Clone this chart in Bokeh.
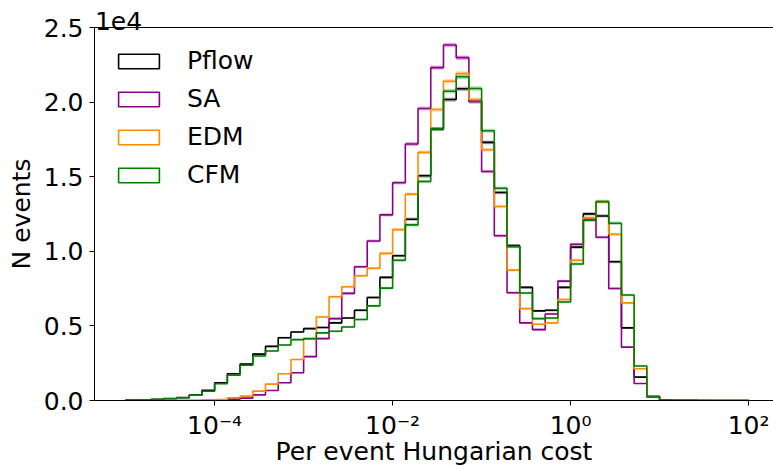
import numpy as np
from bokeh.plotting import figure
from bokeh.models import Range1d, FixedTicker, LogAxis, Legend, LegendItem, ColumnDataSource
from bokeh.embed import file_html
from bokeh.resources import INLINE

# 49 log-spaced bins, 7 per decade, from 1e-5 to 1e2
log_lo, log_hi, n_edges = -5.0, 2.0, 50

pflow = [30, 50, 80, 130, 190, 370, 680, 1190, 1790, 2440, 3110, 3630, 4210, 4590,
         4820, 4890, 5200, 5530, 6050, 6900, 8250, 9700, 12150, 15060, 18200, 20170,
         20890, 20060, 17300, 13940, 10380, 7580, 6010, 6050, 7580, 10280, 12510, 12370,
         9300, 4870, 1570, 270, 50, 20, 10, 5, 3, 2, 1]
sa = [0, 0, 0, 0, 2, 5, 15, 30, 90, 160, 380, 670, 1190, 1860,
      2940, 4150, 5490, 7180, 8960, 10690, 12440, 14590, 17190, 19570, 22310, 23830,
      22980, 20040, 15350, 11040, 7220, 5200, 4750, 5800, 8000, 10470, 12150, 10940,
      7510, 3580, 1140, 220, 50, 30, 30, 10, 5, 3, 1]
edm = [0, 0, 0, 0, 5, 15, 30, 70, 180, 290, 630, 1100, 1790, 2750,
       4120, 5600, 6950, 7620, 8360, 8860, 9860, 11450, 13830, 16630, 19500, 21400,
       21920, 20170, 16810, 13000, 8740, 6160, 5110, 5200, 6770, 9400, 12250, 13300,
       11140, 6540, 2130, 270, 50, 20, 10, 8, 5, 3, 1]
cfm = [30, 50, 70, 120, 180, 350, 620, 1120, 1700, 2360, 2980, 3320, 3720, 4080,
       4150, 4530, 4640, 4930, 5430, 6340, 7530, 9400, 11770, 14680, 18200, 20730,
       21700, 20910, 18080, 14230, 10310, 7210, 5490, 5530, 6600, 9150, 12080, 13340,
       11880, 7070, 2310, 280, 50, 20, 10, 5, 3, 2, 1]

series_names = ["Pflow", "SA", "EDM", "CFM"]
series_values = [pflow, sa, edm, cfm]
series_colors = ["black", "darkmagenta", "darkorange", "green"]

x_ticks = [1e-4, 1e-2, 1e0, 1e2]
x_tick_labels = ["10\u207b\u2074", "10\u207b\u00b2", "10\u2070", "10\u00b2"]
y_ticks = [0, 5000, 10000, 15000, 20000, 25000]
y_tick_labels = ["0.0", "0.5", "1.0", "1.5", "2.0", "2.5"]
y_offset_text = "1e4"
x_label = "Per event Hungarian cost"
y_label = "N events"

FONT = "DejaVu Sans"
FS = "25px"

edges = np.logspace(log_lo, log_hi, n_edges)
x_lo_log, x_hi_log = -5.35, 2.28

p = figure(frame_width=679, frame_height=373, x_axis_type="log",
           x_range=Range1d(10 ** x_lo_log, 10 ** x_hi_log), y_range=Range1d(0, 25000),
           output_backend="svg", toolbar_location=None,
           min_border_left=94, min_border_right=0, min_border_top=27, min_border_bottom=70)
p.outline_line_color = None
p.grid.visible = False
p.background_fill_color = "white"
p.border_fill_color = "white"

legend_items = []
for name, vals, col in zip(series_names, series_values, series_colors):
    c = np.asarray(vals, dtype=float)
    err = np.sqrt(c)
    band = ColumnDataSource(dict(left=edges[:-1], right=edges[1:], bottom=c - err, top=c + err))
    p.quad(left="left", right="right", bottom="bottom", top="top", source=band,
           fill_color=col, fill_alpha=0.3, line_color=None)
    xs = np.concatenate([[edges[0]], np.repeat(edges, 2)[1:-1], [edges[-1]]])
    ys = np.concatenate([[0.0], np.repeat(c, 2), [0.0]])
    p.line(xs, ys, line_color=col, line_width=1.6)
    # legend-only patch (not drawn: NaN extent)
    dummy = p.quad(left=[np.nan], right=[np.nan], bottom=[np.nan], top=[np.nan],
                   fill_color=None, line_color=col, line_width=1.6)
    legend_items.append(LegendItem(label=name, renderers=[dummy]))

legend = Legend(items=legend_items, location="top_left", margin=19, padding=0,
                border_line_color=None, background_fill_alpha=0,
                glyph_width=51, glyph_height=18, label_standoff=23, spacing=9,
                label_text_font=FONT, label_text_font_size=FS, label_text_color="black")
p.add_layout(legend)

xa = p.xaxis[0]
xa.ticker = FixedTicker(ticks=x_ticks, minor_ticks=[])
xa.major_label_overrides = dict(zip(x_ticks, x_tick_labels))
xa.axis_label = x_label
xa.major_label_standoff = 5
xa.axis_label_standoff = -6

ya = p.yaxis[0]
ya.ticker = FixedTicker(ticks=y_ticks, minor_ticks=[])
ya.major_label_overrides = dict(zip(y_ticks, y_tick_labels))
ya.axis_label = y_label
ya.major_label_standoff = 6
ya.axis_label_standoff = 5

for ax in (xa, ya):
    ax.major_label_text_font = FONT
    ax.major_label_text_font_size = FS
    ax.major_label_text_color = "black"
    ax.axis_label_text_font = FONT
    ax.axis_label_text_font_size = FS
    ax.axis_label_text_font_style = "normal"
    ax.axis_label_text_color = "black"
    ax.major_tick_out = 5
    ax.major_tick_in = 0
    ax.minor_tick_out = 0
    ax.minor_tick_in = 0
    ax.axis_line_color = "black"
    ax.axis_line_width = 1
    ax.major_tick_line_color = "black"

# top spine, carrying the "1e4" offset text as its only (tick-less) label
offset_pos = 10 ** (x_lo_log + 0.27)
top_axis = LogAxis(ticker=FixedTicker(ticks=[offset_pos], minor_ticks=[]),
                   major_label_overrides={offset_pos: y_offset_text},
                   axis_line_color="black", axis_line_width=1,
                   major_tick_out=0, major_tick_in=0, minor_tick_out=0, minor_tick_in=0,
                   major_tick_line_color=None,
                   major_label_standoff=-2, major_label_text_font=FONT,
                   major_label_text_font_size=FS, major_label_text_color="black")
p.add_layout(top_axis, "above")

open("out.html", "w").write(file_html(p, INLINE))
